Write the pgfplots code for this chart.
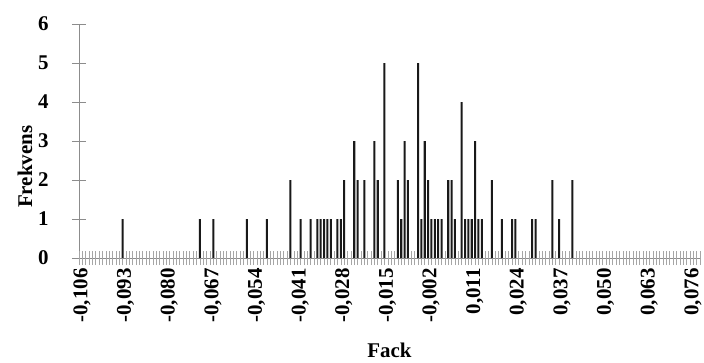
\documentclass[border=0pt]{standalone}
\usepackage{fontspec}
\setmainfont{Liberation Serif}
\usepackage{pgfplots}
\pgfplotsset{compat=1.18}
\begin{document}
\begin{tikzpicture}
\begin{axis}[
  scale only axis, width=621bp, height=234bp,
  xmin=0, xmax=185, ymin=0, ymax=6,
  axis x line*=bottom, axis y line*=left,
  axis line style={black!45, line width=0.6pt},
  ytick={0,...,6},
  xtick={0,13,...,182},
  xticklabels={{-0,106},{-0,093},{-0,080},{-0,067},{-0,054},{-0,041},{-0,028},{-0,015},{-0,002},{0,011},{0,024},{0,037},{0,050},{0,063},{0,076}},
  extra x ticks={0,...,185}, extra x tick labels={},
  extra x tick style={major tick length=14bp, tick style={black!35, line width=0.6pt}},
  tick align=center, major tick length=14bp,
  tick style={black!45, line width=0.6pt},
  /pgf/number format/assume math mode=true,
  ticklabel style={font=\fontsize{21}{24}\selectfont\bfseries},
  xticklabel style={rotate=90, anchor=east, yshift=-3bp},
  yticklabel style={xshift=-20bp},
  xlabel={Fack}, ylabel={Frekvens},
  label style={font=\fontsize{21}{24}\selectfont\bfseries},
  xlabel style={at={(rel axis cs:0.5,-0.393)}, anchor=center},
  ylabel style={at={(rel axis cs:-0.087,0.39)}, anchor=center},
]
\addplot[ybar, fill=black!90, draw=none, bar width=0.6, bar shift=0] coordinates {
(13,1) (36,1) (40,1) (50,1) (56,1) (63,2) (66,1) (69,1)
(71,1) (72,1) (73,1) (74,1) (75,1) (77,1) (78,1) (79,2)
(82,3) (83,2) (85,2) (88,3) (89,2) (91,5) (95,2) (96,1)
(97,3) (98,2) (101,5) (102,1) (103,3) (104,2) (105,1) (106,1)
(107,1) (108,1) (110,2) (111,2) (112,1) (114,4) (115,1) (116,1)
(117,1) (118,3) (119,1) (120,1) (123,2) (126,1) (129,1) (130,1)
(135,1) (136,1) (141,2) (143,1) (147,2)
};
\end{axis}
\pgfresetboundingbox
\path (-79bp,-105bp) rectangle (625bp,258bp);
\end{tikzpicture}
\end{document}
